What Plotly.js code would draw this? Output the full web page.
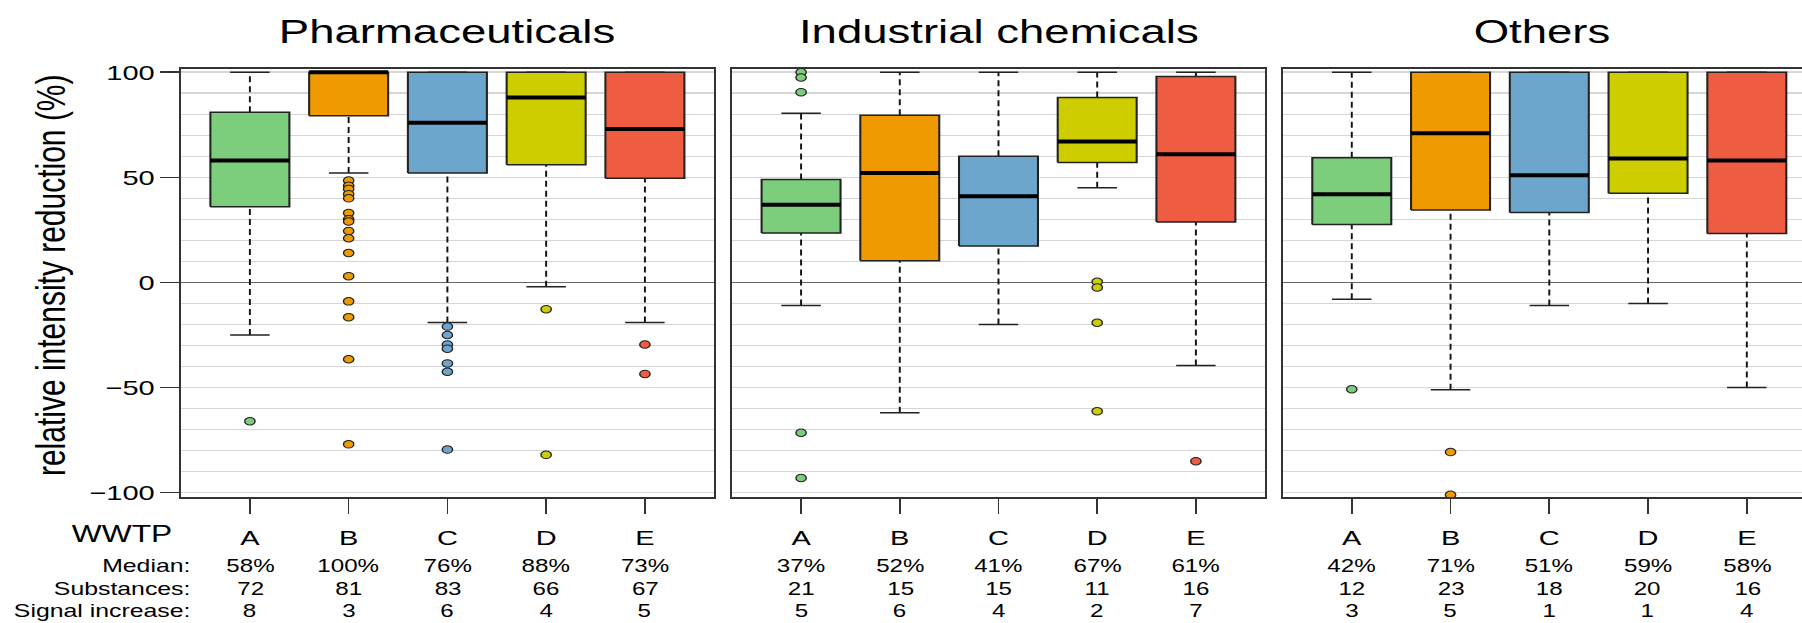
<!DOCTYPE html>
<html><head><meta charset="utf-8">
<script src="https://cdn.plot.ly/plotly-3.0.1.min.js"></script>
<style>
html,body{margin:0;padding:0;background:#fff;overflow:hidden;}
#wrap{width:1802px;height:623px;overflow:hidden;position:relative;background:#fff;}
#plot{width:1306px;height:623px;transform:scaleX(1.37979);transform-origin:0 0;}
</style></head><body><div id="wrap"><div id="plot"></div></div>
<script>
// ---------------- data ----------------
const panels = ['Pharmaceuticals', 'Industrial chemicals', 'Others'];
const wwtp = ['A', 'B', 'C', 'D', 'E'];
const colors = ['#7CCD7C', '#EE9A00', '#6CA6CD', '#CDCD00', '#EE5C42'];

const upperWhisker = [
  [100, 100, 100, 100, 100],
  [80.5, 100, 100, 100, 100],
  [100, 100, 100, 100, 100]
];
const q3 = [
  [81, 100, 100, 100, 100],
  [49, 79.5, 60, 88, 98],
  [59.3, 100, 100, 100, 100]
];
const medians = [
  [58, 100, 76, 88, 73],
  [37, 52, 41, 67, 61],
  [42, 71, 51, 59, 58]
];
const q1 = [
  [36, 79.3, 52, 56, 49.5],
  [23.5, 10.3, 17.3, 57, 28.7],
  [27.6, 34.4, 33.3, 42.4, 23.3]
];
const lowerWhisker = [
  [-25, 52, -19, -2, -19],
  [-11, -62, -20, 45, -39.5],
  [-8, -51, -11, -10, -50]
];
const outliersPharma = [
  [-66],
  [48.5, 46, 44.5, 42, 40, 33, 30, 29, 24.5, 21, 14, 3, -9, -16.5, -36.5, -77],
  [-21, -25, -29.5, -31.5, -38.5, -42.5, -79.5],
  [-12.7, -82],
  [-29.5, -43.5]
];
const outliersIndustrial = [
  [100, 97.5, 90.5, -71.5, -93],
  [],
  [],
  [0.3, -2.4, -19.2, -61.3],
  [-85]
];
const outliersOthers = [
  [-50.8],
  [-80.7, -101],
  [],
  [],
  []
];
const substances = [
  [72, 81, 83, 66, 67],
  [21, 15, 15, 11, 16],
  [12, 23, 18, 20, 16]
];
const signalIncrease = [
  [8, 3, 6, 4, 5],
  [5, 6, 4, 2, 7],
  [3, 5, 1, 1, 4]
];
const yTicks = [-100, -50, 0, 50, 100];
const rowLabels = ['Median:', 'Substances:', 'Signal increase:'];

// ---------------- layout geometry ----------------
const W = 1306, H = 623, T = 69, B = 126;
const unitPx = 386.5 / 5.4;
const domains = [[131 / W, 517.5 / W], [530.5 / W, 916.8 / W], [929.6 / W, 1]];
const xRanges = [[0.3, 5.7], [0.3, 5.7], [0.3, 0.3 + (W - 929.6) / unitPx]];
const yRange = [-102.05, 101.52];
const py = px => (H - B - px) / (H - T - B);
const rowY = [566, 589, 610.5];
const FONT = 'Liberation Sans, Arial, Helvetica, sans-serif';

const outliers = [outliersPharma, outliersIndustrial, outliersOthers];
const traces = [];
const annotations = [];
const layout = {
  width: W, height: H,
  margin: {l: 0, r: 0, t: T, b: B, pad: 0},
  paper_bgcolor: '#ffffff', plot_bgcolor: '#ffffff',
  showlegend: false, hovermode: false,
  font: {family: FONT, color: '#000', size: 21},
  annotations: annotations
};

panels.forEach((title, p) => {
  const sfx = p === 0 ? '' : String(p + 1);
  const xa = 'x' + sfx, ya = 'y' + sfx;
  layout['xaxis' + sfx] = {
    domain: domains[p], range: xRanges[p], anchor: ya,
    tickvals: wwtp.map((_, i) => i + 1), ticktext: wwtp,
    ticks: 'outside', ticklen: 15, tickwidth: 1.2, tickcolor: '#333',
    showgrid: false, zeroline: false,
    showline: true, mirror: true, linecolor: '#333', linewidth: 1.6,
    tickfont: {size: 21, family: FONT, color: '#000'},
    ticklabelstandoff: 6, fixedrange: true
  };
  layout['yaxis' + sfx] = {
    domain: [0, 1], range: yRange, anchor: xa,
    tickvals: yTicks, ticks: p === 0 ? 'outside' : '', ticklen: 13.5, tickwidth: 1.5, tickcolor: '#333',
    showticklabels: p === 0, tickfont: {size: 21, family: FONT, color: '#000'},
    ticklabelstandoff: 7.5,
    showgrid: true, gridcolor: '#d6d6d6', gridwidth: 1.5,
    minor: {dtick: 10, tick0: 0, showgrid: true, gridcolor: '#d6d6d6', gridwidth: 1.5, ticks: ''},
    zeroline: true, zerolinecolor: '#666', zerolinewidth: 1.5,
    showline: true, mirror: p < 2, linecolor: '#333', linewidth: 1.2, fixedrange: true
  };

  // whiskers (dashed) and staples (solid)
  const wx = [], wy = [], sx = [], sy = [];
  wwtp.forEach((_, i) => {
    const c = i + 1;
    if (upperWhisker[p][i] > q3[p][i]) { wx.push(c, c, null); wy.push(q3[p][i], upperWhisker[p][i], null); }
    if (lowerWhisker[p][i] < q1[p][i]) { wx.push(c, c, null); wy.push(lowerWhisker[p][i], q1[p][i], null); }
    sx.push(c - 0.2, c + 0.2, null, c - 0.2, c + 0.2, null);
    sy.push(upperWhisker[p][i], upperWhisker[p][i], null, lowerWhisker[p][i], lowerWhisker[p][i], null);
  });
  traces.push({type: 'scatter', mode: 'lines', xaxis: xa, yaxis: ya, x: wx, y: wy,
    line: {color: '#111', width: 1.4, dash: '6px,4px'}, hoverinfo: 'skip'});
  traces.push({type: 'scatter', mode: 'lines', xaxis: xa, yaxis: ya, x: sx, y: sy,
    line: {color: '#222', width: 1.5}, hoverinfo: 'skip'});

  // boxes and medians
  wwtp.forEach((_, i) => {
    const c = i + 1;
    traces.push({type: 'scatter', mode: 'lines', xaxis: xa, yaxis: ya,
      x: [c - 0.4, c + 0.4, c + 0.4, c - 0.4, c - 0.4],
      y: [q1[p][i], q1[p][i], q3[p][i], q3[p][i], q1[p][i]],
      fill: 'toself', fillcolor: colors[i], line: {color: '#222', width: 1.5}, hoverinfo: 'skip'});
    traces.push({type: 'scatter', mode: 'lines', xaxis: xa, yaxis: ya,
      x: [c - 0.4, c + 0.4], y: [medians[p][i], medians[p][i]],
      line: {color: '#000', width: 4}, hoverinfo: 'skip'});
    const ov = outliers[p][i];
    if (ov.length) {
      traces.push({type: 'scatter', mode: 'markers', xaxis: xa, yaxis: ya,
        x: ov.map(() => c), y: ov,
        marker: {color: colors[i], size: 7.5, line: {color: '#222', width: 1}}, hoverinfo: 'skip'});
    }
  });

  // panel title
  annotations.push({xref: xa + ' domain', yref: 'paper', x: 0.5, y: py(31), xanchor: 'center', yanchor: 'middle',
    text: title, showarrow: false, font: {size: 33, family: FONT, color: '#000'}});

  // rows below
  const rows = [medians[p].map(m => m + '%'), substances[p], signalIncrease[p]];
  rows.forEach((vals, r) => {
    vals.forEach((v, i) => {
      annotations.push({xref: xa, yref: 'paper', x: i + 1, y: py(rowY[r]), xanchor: 'center', yanchor: 'middle',
        text: String(v), showarrow: false, borderpad: 0, font: {size: 17.5, family: FONT, color: '#000'}});
    });
  });
});

// left-side labels
annotations.push({xref: 'paper', yref: 'paper', x: 126.8 / W, y: py(534), xanchor: 'right', yanchor: 'middle',
  text: 'WWTP', showarrow: false, font: {size: 23, family: FONT, color: '#000'}});
rowLabels.forEach((t, r) => {
  annotations.push({xref: 'paper', yref: 'paper', x: 139 / W, y: py(rowY[r]), xanchor: 'right', yanchor: 'middle',
    text: t, showarrow: false, borderpad: 0, font: {size: 18, family: FONT, color: '#000'}});
});
annotations.push({xref: 'paper', yref: 'paper', x: 36.2 / W, y: py(275), xanchor: 'center', yanchor: 'middle',
  textangle: -90, text: 'relative intensity reduction (%)', showarrow: false,
  font: {size: 30, family: FONT, color: '#000'}});

Plotly.newPlot('plot', traces, layout, {staticPlot: true, displayModeBar: false});
</script></body></html>
